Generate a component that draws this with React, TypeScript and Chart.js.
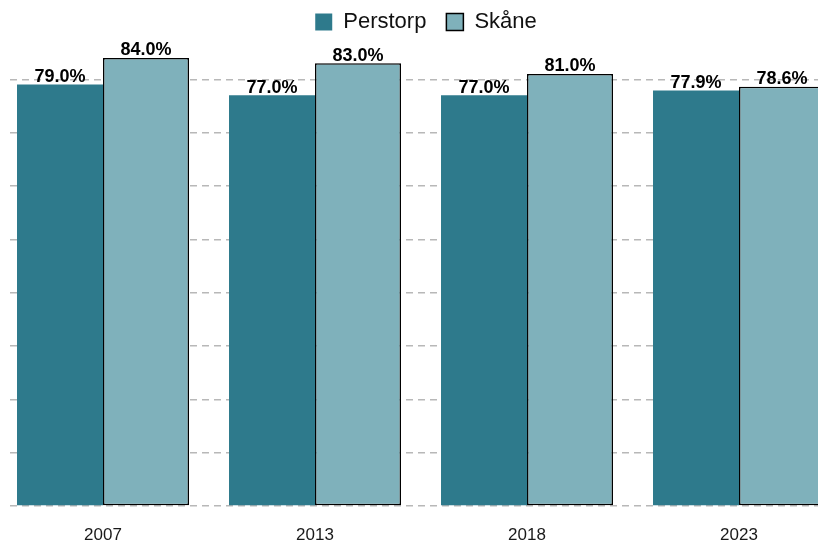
import React, { useEffect, useRef } from "react";
import { Chart, registerables } from "chart.js";

Chart.register(...registerables);

const years = ["2007", "2013", "2018", "2023"];
const perstorp = [79.0, 77.0, 77.0, 77.9];
const skane = [84.0, 83.0, 81.0, 78.6];
const gridTicks = [0, 10, 20, 30, 40, 50, 60, 70, 80];

const FONT = "'Liberation Sans', Arial, Helvetica, sans-serif";

const labelPlugin = {
  id: "barLabels",
  afterDatasetsDraw(chart: any) {
    const ctx = chart.ctx;
    ctx.save();
    ctx.font = `bold 18px ${FONT}`;
    ctx.fillStyle = "#000";
    ctx.textAlign = "center";
    ctx.textBaseline = "alphabetic";
    chart.data.datasets.forEach((ds: any, di: number) => {
      const meta = chart.getDatasetMeta(di);
      meta.data.forEach((el: any, i: number) => {
        const v = ds.data[i].y;
        ctx.fillText(v.toFixed(1) + "%", el.x, el.y - 2.5);
      });
    });
    ctx.restore();
  },
};

export default function App() {
  const ref = useRef<HTMLCanvasElement | null>(null);
  useEffect(() => {
    if (!ref.current) return;
    const chart = new Chart(ref.current, {
      type: "bar",
      data: {
        datasets: [
          {
            label: "Perstorp",
            data: perstorp.map((v, i) => ({ x: i, y: v })),
            backgroundColor: "#2E7A8C",
            borderColor: "#2E7A8C",
            borderWidth: 0,
            categoryPercentage: 0.8113,
            barPercentage: 1,
          },
          {
            label: "Skåne",
            data: skane.map((v, i) => ({ x: i, y: v })),
            backgroundColor: "#7FB1BB",
            borderColor: "#000000",
            borderWidth: 1.5,
            borderSkipped: false,
            categoryPercentage: 0.8113,
            barPercentage: 1,
          },
        ],
      },
      options: {
        responsive: false,
        animation: false,
        devicePixelRatio: 1,
        layout: { padding: { left: 10, right: 0, top: -9, bottom: -23 } },
        plugins: {
          legend: {
            position: "top",
            align: "center",
            labels: {
              boxWidth: 17,
              boxHeight: 17,
              padding: 20,
              color: "#111",
              font: { family: FONT, size: 22 },
            },
          },
          tooltip: { enabled: false },
        },
        scales: {
          x: {
            type: "linear",
            min: -0.4387,
            max: 3.4858,
            offset: false,
            grid: { display: false, drawTicks: false },
            border: { display: false },
            afterBuildTicks: (scale: any) => {
              scale.ticks = years.map((_, i) => ({ value: i }));
            },
            ticks: {
              padding: 22,
              color: "#1a1a1a",
              font: { family: FONT, size: 17, lineHeight: 0.82 },
              callback: (v: any) => years[v] ?? "",
            },
          },
          y: {
            type: "linear",
            min: 0,
            max: 86.8,
            afterBuildTicks: (scale: any) => {
              scale.ticks = gridTicks.map((v) => ({ value: v }));
            },
            ticks: { display: false },
            grid: { color: "#B8B8B8", lineWidth: 1.4, drawTicks: false },
            border: { display: false, dash: [7, 5] },
          },
        },
      },
      plugins: [labelPlugin],
    });
    return () => chart.destroy();
  }, []);
  return (
    <div
      style={{
        position: "fixed",
        left: 0,
        top: 0,
        width: 818,
        height: 541,
        overflow: "hidden",
        background: "#fff",
      }}
    >
      <canvas ref={ref} width={842} height={541} style={{ width: 842, height: 541, display: "block" }} />
    </div>
  );
}
